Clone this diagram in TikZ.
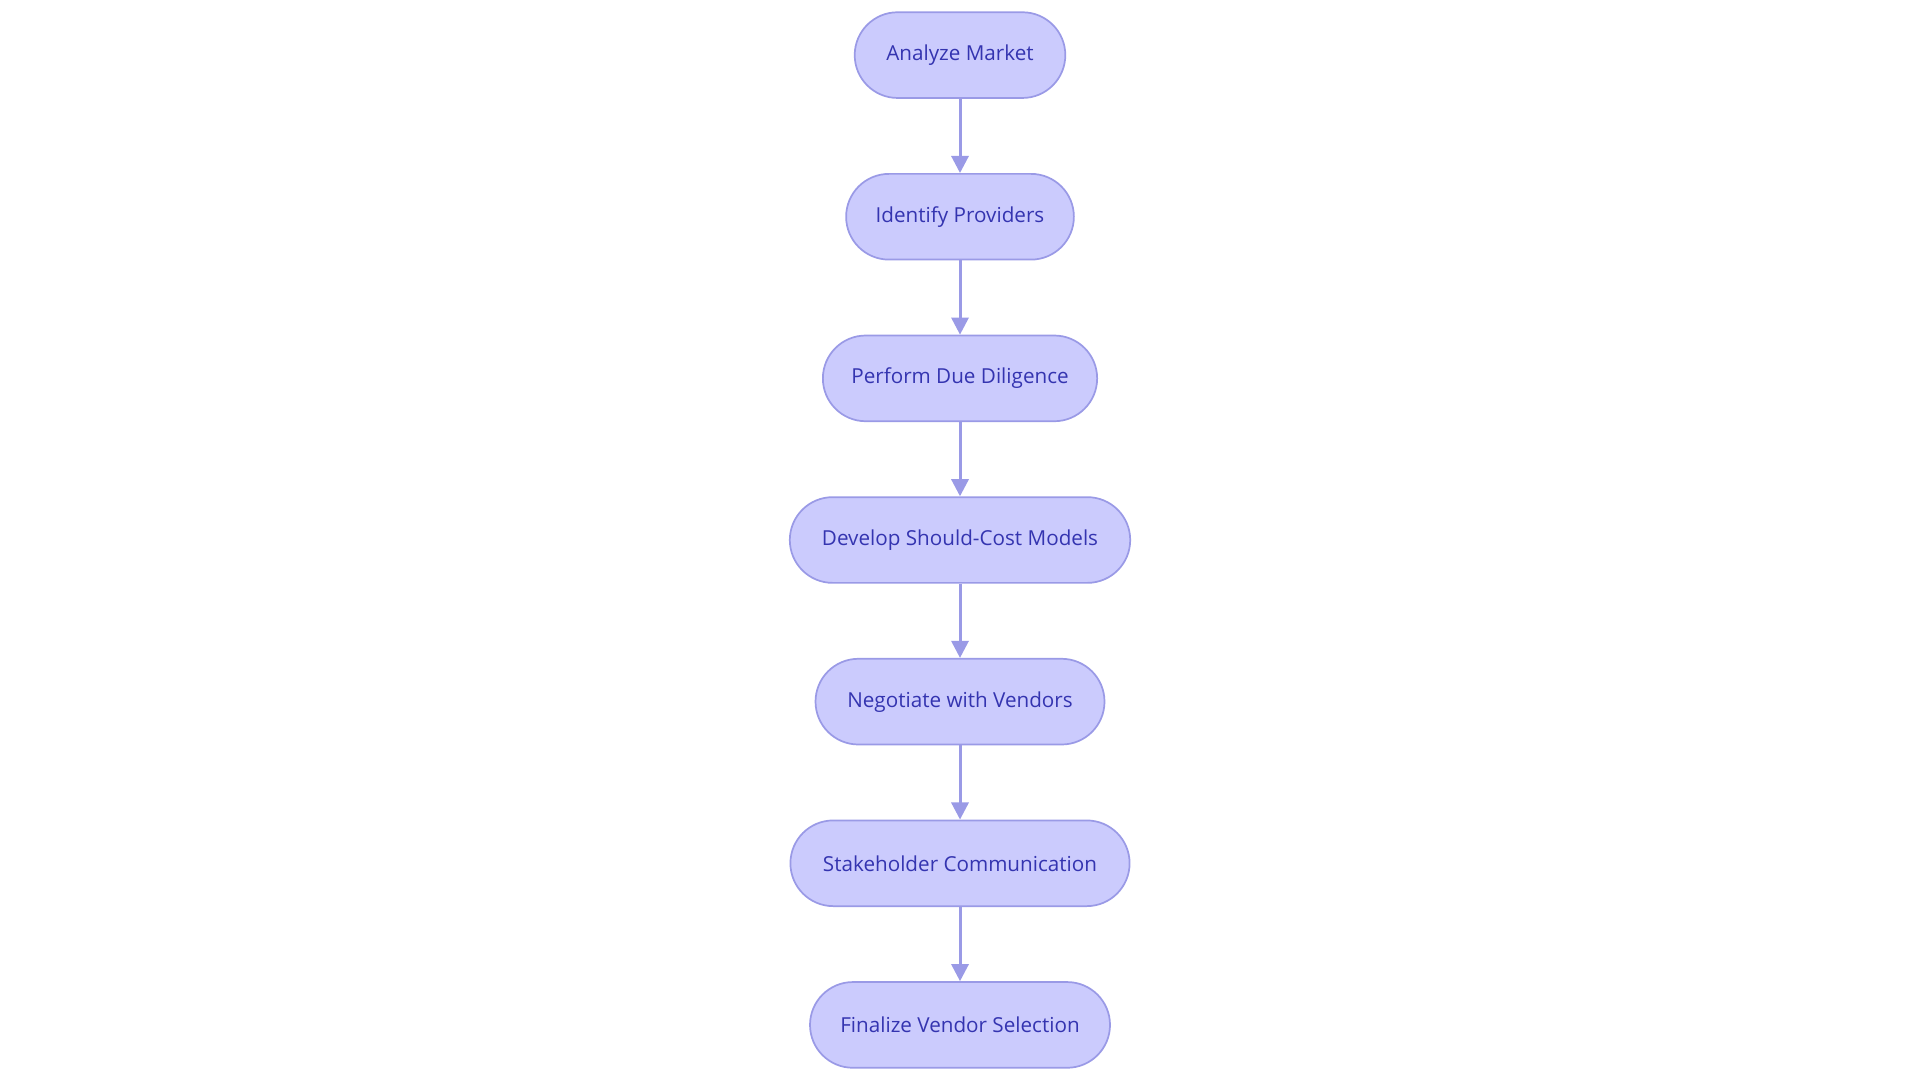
\documentclass[tikz,border=0pt]{standalone}
\usepackage{fontspec}
\setmainfont{Open Sans}
\usetikzlibrary{positioning,arrows.meta}
\definecolor{stepfill}{HTML}{CBCBFD}
\definecolor{stepdraw}{HTML}{9A9AE6}
\definecolor{steptext}{HTML}{3434B0}
\tikzset{
  stage/.style={draw=stepdraw, fill=stepfill, text=steptext, rounded corners=0.35cm,
    minimum height=0.7cm, inner sep=0pt, font=\fontsize{4.8pt}{6pt}\selectfont},
  flow/.style={draw=stepdraw, line width=0.7pt, -{Triangle[length=0.14cm,width=0.14cm]}}
}
\begin{document}
\begin{tikzpicture}
\useasboundingbox (0,0) rectangle (15.68,-8.8);
% stages
\node[stage, minimum width=1.72cm] (analyze) at (7.84,-0.45) {Analyze Market};
\node[stage, minimum width=1.86cm] (identify) at (7.84,-1.77) {Identify Providers};
\node[stage, minimum width=2.24cm] (perform) at (7.84,-3.09) {Perform Due Diligence};
\node[stage, minimum width=2.78cm] (develop) at (7.84,-4.41) {Develop Should-Cost Models};
\node[stage, minimum width=2.36cm] (negotiate) at (7.84,-5.73) {Negotiate with Vendors};
\node[stage, minimum width=2.77cm] (stake) at (7.84,-7.05) {Stakeholder Communication};
\node[stage, minimum width=2.45cm] (finalize) at (7.84,-8.37) {Finalize Vendor Selection};
% arrows
\draw[flow] (analyze) -- (identify);
\draw[flow] (identify) -- (perform);
\draw[flow] (perform) -- (develop);
\draw[flow] (develop) -- (negotiate);
\draw[flow] (negotiate) -- (stake);
\draw[flow] (stake) -- (finalize);
\end{tikzpicture}
\end{document}
